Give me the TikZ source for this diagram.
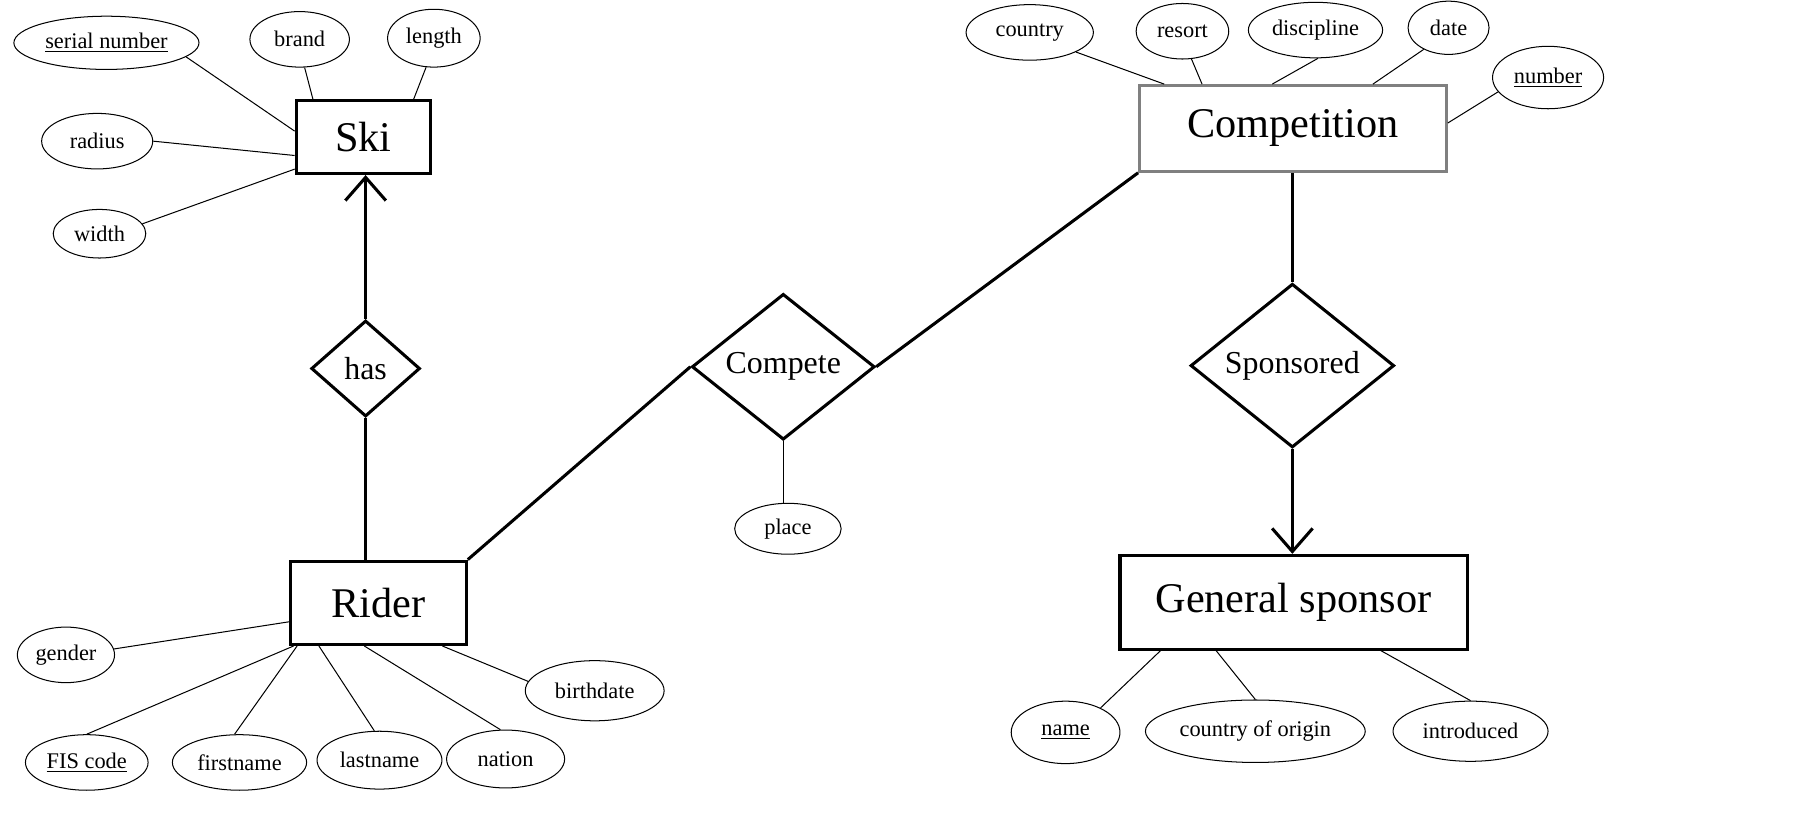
\documentclass[tikz,border=0pt]{standalone}
\usepackage{fontspec}
\setmainfont{Liberation Serif}
\usetikzlibrary{positioning,shapes.geometric,arrows.meta,calc}

\begin{document}
\begin{tikzpicture}[x=0.2mm,y=-0.2mm,
  entnode/.style={draw,line width=1.5pt,inner sep=0pt,font=\fontsize{20.8}{24}\selectfont},
  relnode/.style={diamond,draw,line width=1.5pt,inner sep=0pt,font=\fontsize{15.7}{18}\selectfont},
  attnode/.style={ellipse,draw,line width=0.5pt,inner sep=0pt,font=\fontsize{11}{13}\selectfont},
  dims/.style 2 args={minimum width=#1*0.2mm,minimum height=#2*0.2mm},
  attline/.style={line width=0.5pt},
  relline/.style={line width=1.5pt},
  relarrow/.style={-{Straight Barb[length=4mm,width=7mm]}}
]
\useasboundingbox (0,0) rectangle (1567,711.4);

% the entities
\node[entnode,dims={116}{63}] (ski) at (314,118.5) {Ski};
\node[entnode,dims={152}{72}] (rider) at (327,521) {Rider};
\node[entnode,draw=gray,dims={265}{74}] (comp) at (1117.5,111) {Competition};
\node[entnode,dims={300}{81}] (gsp) at (1118,520.5) {General sponsor};

% the relationships
\node[relnode,dims={94}{83}] (has) at (316,318.5) {has};
\node[relnode,dims={158}{126}] (compete) at (677,317) {Compete};
\node[relnode,dims={176}{136}] (sponsored) at (1117,316) {Sponsored};

% the attributes of Ski
\node[attnode,dims={160}{46}] (serial) at (92,37) {\underline{serial number}};
\node[attnode,dims={86}{48}] (brand) at (259,34) {brand};
\node[attnode,dims={80}{50}] (skilength) at (375,33) {length};
\node[attnode,dims={96}{48}] (radius) at (84,122) {radius};
\node[attnode,dims={80}{42}] (skiwidth) at (86,202) {width};

% the attributes of Competition
\node[attnode,dims={110}{48}] (country) at (890,28) {country};
\node[attnode,dims={80}{48}] (resort) at (1022,27) {resort};
\node[attnode,dims={116}{48}] (discipline) at (1137,26) {discipline};
\node[attnode,dims={70}{46}] (date) at (1252,24) {date};
\node[attnode,dims={96}{54}] (number) at (1338,67) {\underline{number}};

% the attributes of Rider
\node[attnode,dims={84}{48}] (gender) at (57,566) {gender};
\node[attnode,dims={106}{48}] (fis) at (75,659) {\underline{FIS code}};
\node[attnode,dims={116}{48}] (firstname) at (207,659) {firstname};
\node[attnode,dims={108}{50}] (lastname) at (328,657) {lastname};
\node[attnode,dims={102}{50}] (nation) at (437,656) {nation};
\node[attnode,dims={120}{52}] (birthdate) at (514,597) {birthdate};

% the attribute of Compete
\node[attnode,dims={92}{44}] (place) at (681,457) {place};

% the attributes of General sponsor
\node[attnode,dims={94}{54}] (name) at (921,633) {\underline{name}};
\node[attnode,dims={190}{54}] (origin) at (1085,632) {country of origin};
\node[attnode,dims={134}{52}] (introduced) at (1271,632) {introduced};

% the attribute lines
\draw[attline] (serial.-10) -- (ski.175);
\draw[attline] (brand.-80) -- (ski.143);
\draw[attline] (skilength.-105) -- (ski.37);
\draw[attline] (radius.east) -- (ski.195);
\draw[attline] (skiwidth.13) -- (ski.205);

\draw[attline] (country.-23) -- (comp.161);
\draw[attline] (resort.-72) -- (comp.154);
\draw[attline] (discipline.-85) -- (comp.115);
\draw[attline] (date.221) -- (comp.29);
\draw[attline] (number.196) -- (comp.2);

\draw[attline] (gender.7) -- (rider.192);
\draw[attline] (fis.north) -- (rider.207);
\draw[attline] (firstname.100) -- (rider.208);
\draw[attline] (lastname.100) -- (rider.216);
\draw[attline] (nation.100) -- (rider.252);
\draw[attline] (birthdate.172) -- (rider.326);

\draw[attline] (compete.south) -- (compete.south |- place.north);

\draw[attline] (name.35) -- (gsp.200);
\draw[attline] (origin.north) -- (gsp.212);
\draw[attline] (introduced.north) -- (gsp.331);

% the relationship lines
\draw[relline,relarrow] (has.north) -- (has.north |- ski.south);
\draw[relline] (has.south) -- (has.south |- rider.north);
\draw[relline] (rider.north east) -- (compete.west);
\draw[relline] (compete.east) -- (comp.south west);
\draw[relline] (comp.south -| sponsored.north) -- (sponsored.north);
\draw[relline,relarrow] (sponsored.south) -- (sponsored.south |- gsp.north);
\end{tikzpicture}
\end{document}
